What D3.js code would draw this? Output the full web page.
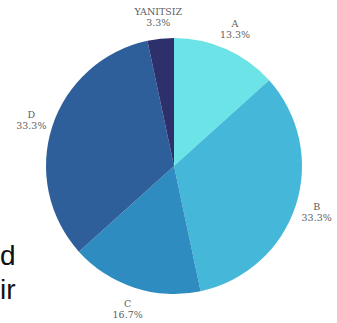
<!DOCTYPE html>
<html>
<head>
<meta charset="utf-8">
<script src="https://cdn.jsdelivr.net/npm/d3@7"></script>
<style>
  html, body { margin: 0; padding: 0; background: #fff; }
  svg { display: block; }
</style>
</head>
<body>
<svg id="chart" width="337" height="323"></svg>
<script>
// Answer categories and response counts (out of 30)
const categories = ["A", "B", "C", "D", "YANITSIZ"];
const counts = [4, 10, 5, 10, 1];
const percentLabels = ["13.3%", "33.3%", "16.7%", "33.3%", "3.3%"];
const sliceColors = ["#6be3e7", "#45b7d8", "#2e8cc0", "#2f5f9b", "#2e306c"];

const svg = d3.select("#chart");
const cx = 174, cy = 166, radius = 128, labelRadius = 150;

const data = categories.map((c, i) => ({ name: c, value: counts[i], pct: percentLabels[i], color: sliceColors[i] }));

const pie = d3.pie().value(d => d.value).sort(null);
const arc = d3.arc().innerRadius(0).outerRadius(radius);
const labelArc = d3.arc().innerRadius(labelRadius).outerRadius(labelRadius);

const g = svg.append("g").attr("transform", `translate(${cx},${cy})`);
const arcs = pie(data);

g.selectAll("path.slice")
  .data(arcs)
  .join("path")
  .attr("class", "slice")
  .attr("d", arc)
  .attr("fill", d => d.data.color);

const labels = g.selectAll("text.lbl")
  .data(arcs)
  .join("text")
  .attr("class", "lbl")
  .attr("transform", d => `translate(${labelArc.centroid(d)})`)
  .attr("text-anchor", "middle")
  .attr("font-family", "'DejaVu Serif', 'Liberation Serif', serif")
  .attr("font-size", 9.5)
  .attr("fill", "#5e5e5e");

labels.append("tspan").attr("x", 0).attr("dy", "-0.2em").text(d => d.data.name);
labels.append("tspan").attr("x", 0).attr("dy", "1.15em").text(d => d.data.pct);

// Body text fragments along the left edge
svg.append("text").attr("x", 0).attr("y", 265)
  .attr("font-family", "'Liberation Sans', Arial, sans-serif")
  .attr("font-size", 28).attr("fill", "#111").text("d");
svg.append("text").attr("x", 0).attr("y", 299)
  .attr("font-family", "'Liberation Sans', Arial, sans-serif")
  .attr("font-size", 28).attr("fill", "#111").text("ir");
</script>
</body>
</html>
